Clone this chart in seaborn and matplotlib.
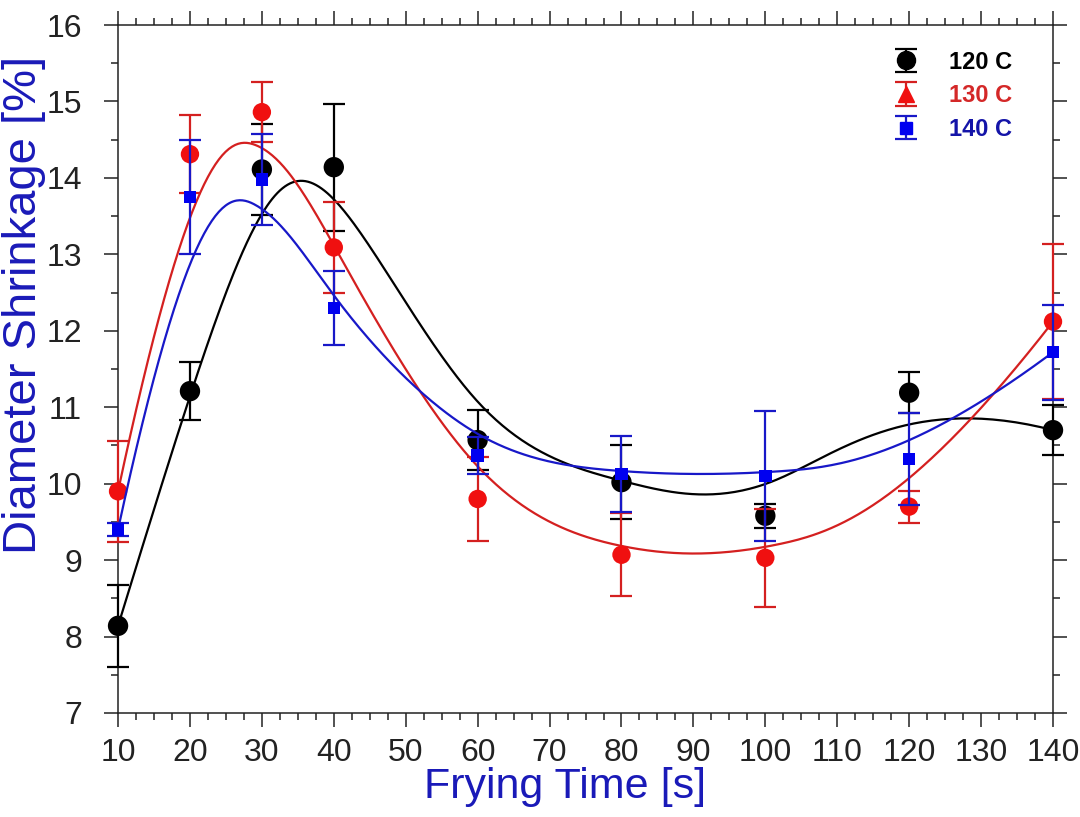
import numpy as np
import pandas as pd
import matplotlib
matplotlib.use("Agg")
import matplotlib.pyplot as plt
from matplotlib.ticker import MultipleLocator
import seaborn as sns

# Frying time [s] and diameter shrinkage [%] (mean and error) per oil temperature
time = [10, 20, 30, 40, 60, 80, 100, 120, 140]
shrink_120 = [8.14, 11.21, 14.11, 14.14, 10.57, 10.02, 9.58, 11.19, 10.70]
err_120 = [0.54, 0.38, 0.60, 0.83, 0.39, 0.48, 0.16, 0.27, 0.33]
shrink_130 = [9.90, 14.31, 14.86, 13.09, 9.80, 9.07, 9.03, 9.70, 12.12]
err_130 = [0.66, 0.51, 0.39, 0.60, 0.55, 0.54, 0.64, 0.21, 1.01]
shrink_140 = [9.40, 13.75, 13.98, 12.30, 10.37, 10.13, 10.10, 10.32, 11.72]
err_140 = [0.08, 0.74, 0.60, 0.48, 0.24, 0.50, 0.85, 0.60, 0.62]

labels = ["120 C", "130 C", "140 C"]
x_ticks = [10, 20, 30, 40, 50, 60, 70, 80, 90, 100, 110, 120, 130, 140]
y_ticks = [7, 8, 9, 10, 11, 12, 13, 14, 15, 16]


def bspline_curve(xs, ys, degree=3, samples=400):
    """Clamped uniform B-spline that uses the measured points as control points."""
    pts = np.column_stack([xs, ys]).astype(float)
    n = len(pts)
    inner = np.arange(1, n - degree)
    knots = np.concatenate([np.zeros(degree + 1), inner,
                            np.full(degree + 1, n - degree)]).astype(float)
    t = np.linspace(0.0, knots[-1], samples)
    basis = np.zeros((samples, len(knots) - 1))
    for i in range(len(knots) - 1):
        basis[:, i] = (knots[i] <= t) & (t < knots[i + 1])
    basis[t == knots[-1], n - 1] = 1.0
    for d in range(1, degree + 1):
        nxt = np.zeros((samples, len(knots) - 1 - d))
        for i in range(len(knots) - 1 - d):
            left = knots[i + d] - knots[i]
            right = knots[i + d + 1] - knots[i + 1]
            if left > 0:
                nxt[:, i] += (t - knots[i]) / left * basis[:, i]
            if right > 0:
                nxt[:, i] += (knots[i + d + 1] - t) / right * basis[:, i + 1]
        basis = nxt
    curve = basis @ pts
    return curve[:, 0], curve[:, 1]


sns.set_style("ticks")
plt.rcParams["font.family"] = ["Liberation Sans", "DejaVu Sans"]

BLACK = "#000000"
RED = "#f01010"
RED_BAR = "#d42020"
BLUE = "#0000f0"
BLUE_BAR = "#1818c8"
LABEL_BLUE = "#1a1ab8"

series = [
    dict(y=shrink_120, e=err_120, color=BLACK, bar=BLACK, marker="o", s=215,
         leg_marker="o", leg_ms=13, text=BLACK),
    dict(y=shrink_130, e=err_130, color=RED, bar=RED_BAR, marker="o", s=175,
         leg_marker="^", leg_ms=11, text="#d42828"),
    dict(y=shrink_140, e=err_140, color=BLUE, bar=BLUE_BAR, marker="s", s=80,
         leg_marker="s", leg_ms=9, text="#1414a8"),
]

fig = plt.figure(figsize=(10.8, 8.17), dpi=100)
ax = fig.add_axes([0.1093, 0.1273, 0.8657, 0.8421])

for i, sr in enumerate(series):
    df = pd.DataFrame({"time": time, "shrink": sr["y"], "err": sr["e"]})
    z = 3 + i
    # smooth spline curve guided by the measured points
    cx, cy = bspline_curve(df["time"], df["shrink"])
    curve = pd.DataFrame({"time": cx, "shrink": cy})
    sns.lineplot(data=curve, x="time", y="shrink", ax=ax, sort=False,
                 estimator=None, color=sr["bar"], lw=1.6, zorder=z)
    ax.errorbar(df["time"], df["shrink"], yerr=df["err"], fmt="none",
                ecolor=sr["bar"], elinewidth=1.6, capsize=8, capthick=1.6,
                zorder=z + 0.1, clip_on=False)
    sns.scatterplot(data=df, x="time", y="shrink", ax=ax, color=sr["color"],
                    marker=sr["marker"], s=sr["s"], edgecolor="none",
                    zorder=z + 0.2, clip_on=False, legend=False)

# legend entries drawn as marker + error bar
handles = []
for sr in series:
    h = ax.errorbar([np.nan], [np.nan], yerr=[np.nan], fmt=sr["leg_marker"],
                    color=sr["color"], ecolor=sr["bar"], ms=sr["leg_ms"],
                    elinewidth=1.6, capsize=8, capthick=1.6)
    handles.append(h)
leg = fig.legend(handles, labels, loc="upper left",
                 bbox_to_anchor=(0.826, 0.938), frameon=False, numpoints=1,
                 prop=dict(family="Liberation Sans", weight="bold", size=17),
                 handlelength=1.2, handletextpad=1.2, labelspacing=0.45,
                 borderpad=0, borderaxespad=0)
for txt, sr in zip(leg.get_texts(), series):
    txt.set_color(sr["text"])

ax.set_xlim(10, 140)
ax.set_ylim(7, 16)
ax.set_xticks(x_ticks)
ax.set_yticks(y_ticks)
ax.set_xticklabels([str(v) for v in x_ticks])
ax.set_yticklabels([str(v) for v in y_ticks])
ax.xaxis.set_minor_locator(MultipleLocator(2.5))
ax.yaxis.set_minor_locator(MultipleLocator(0.5))
ax.tick_params(which="both", direction="out", top=True, right=True,
               colors="#222222", width=1.1)
ax.tick_params(which="major", length=10, labelsize=23)
ax.tick_params(which="minor", length=5)
ax.tick_params(axis="x", which="major", pad=8)
ax.tick_params(axis="y", which="major", pad=16)
for sp in ax.spines.values():
    sp.set_visible(True)
    sp.set_linewidth(1.1)
    sp.set_color("#222222")

ax.set_xlabel("Frying Time [s]", fontsize=31, color=LABEL_BLUE)
ax.set_ylabel("Diameter Shrinkage [%]", fontsize=34, color=LABEL_BLUE)
ax.xaxis.set_label_coords(0.478, -0.078)
ax.yaxis.set_label_coords(-0.077, 0.593)

fig.savefig("out.png", dpi=100)
